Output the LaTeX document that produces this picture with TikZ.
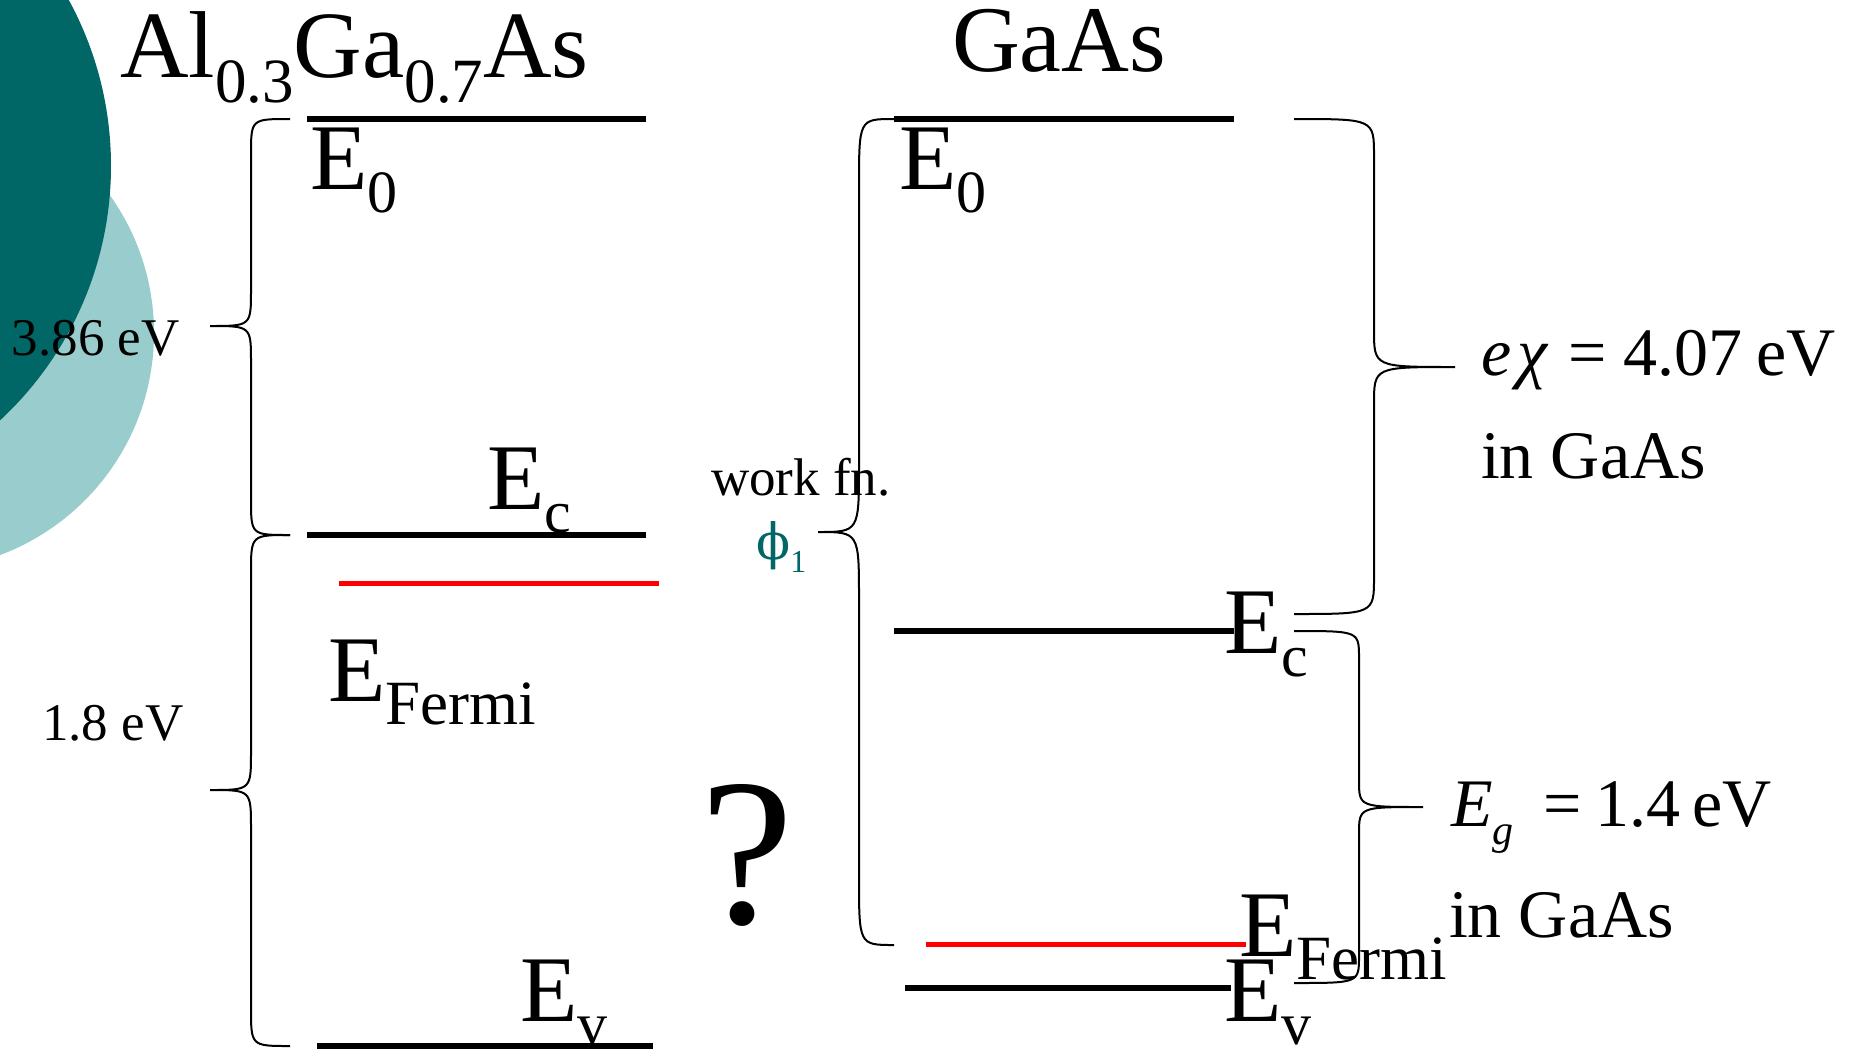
\documentclass[tikz,border=0pt]{standalone}
\usepackage{fontspec}
\setmainfont{Liberation Serif}
\newfontfamily\djs{DejaVu Serif}
\definecolor{darkteal}{RGB}{0,102,102}
\definecolor{lightteal}{RGB}{153,204,204}
\newcommand{\fs}[1]{\fontsize{#1}{#1}\selectfont}
\newcommand{\Esb}[1]{E\raisebox{-23pt}{\fs{60}#1}}
% #1 xend, #2 xstem, #3 xtip, #4 ytop, #5 ytip, #6 ybot, #7 r
\newcommand{\bracepath}[7]{%
  \draw[brc] ({#1},{#4}) .. controls ({#2},{#4}) .. ({#2},{#4+#7}) -- ({#2},{#5-#7})
    .. controls ({#2},{#5}) .. ({#3},{#5}) .. controls ({#2},{#5}) .. ({#2},{#5+#7})
    -- ({#2},{#6-#7}) .. controls ({#2},{#6}) .. ({#1},{#6});}
\begin{document}
\begin{tikzpicture}[x=1pt,y=-1pt,
  level/.style={line width=6pt},
  fermiline/.style={line width=5pt, red},
  brc/.style={line width=2pt},
  lbl/.style={anchor=base west, inner sep=0pt, outer sep=0pt, font=\fs{94}},
  small/.style={anchor=base west, inner sep=0pt, outer sep=0pt, font=\fs{53}},
  mid/.style={anchor=base west, inner sep=0pt, outer sep=0pt, font=\fs{68}}]
\useasboundingbox (0,0) rectangle (1857,1050);
\begin{scope}
  \clip (0,0) rectangle (1857,1050);
  \fill[lightteal] (-83,333) circle (237);
  \fill[darkteal] (-236,166) circle (347);
\end{scope}

% titles
\node[lbl, font=\fs{95}] (t1) at (120,77) {Al\raisebox{-25pt}{\fs{63}0.3}Ga\raisebox{-25pt}{\fs{63}0.7}As};
\node[lbl] (t2) at (952,71) {GaAs};

% AlGaAs levels
\draw[level] (307,119) -- (646,119);
\draw[level] (307,535) -- (646,535);
\draw[fermiline] (339,583) -- (659,583);
\draw[level] (317,1046) -- (653,1046);

% GaAs levels
\draw[level] (894,119) -- (1234,119);
\draw[level] (894,631) -- (1234,631);
\draw[fermiline] (926,944) -- (1246,944);
\draw[level] (905,988) -- (1231,988);

% labels left
\node[lbl] (e0l) at (310,189) {\Esb{0}};
\node[lbl] (ecl) at (487,509) {\Esb{c}};
\node[lbl] (efl) at (328,701) {E\raisebox{-23pt}{\fs{63}Fermi}};
\node[lbl] (evl) at (520,1021) {\Esb{v}};

% labels right
\node[lbl] (e0r) at (899,189) {\Esb{0}};
\node[lbl] (ecr) at (1224,653) {\Esb{c}};
\node[lbl] (efr) at (1239,956) {E\raisebox{-23pt}{\fs{63}Fermi}};
\node[lbl] (evr) at (1224,1021) {\Esb{v}};

% values
\node[small] (v386) at (12,355) {3.86 eV};
\node[small] (v18) at (42,740) {1.8 eV};
\node[small] (wf) at (711,495) {work fn.};
\node[anchor=base west, inner sep=0pt, text=darkteal] (phi) at (756,559)
  {{\djs\fs{50}ϕ}\raisebox{-13pt}{\fs{32}1}};
\node[anchor=base west, inner sep=0pt, font=\fs{210}] (q) at (700,923) {?};

\node[mid] (chi) at (1481,375) {\textit{e}\hspace{6pt}\textit{χ}\hspace{20pt}=\hspace{17pt}4.07\hspace{14pt}eV};
\node[mid] (in1) at (1481,478) {in GaAs};
\node[mid] (eg) at (1451,826) {\textit{E}\raisebox{-18pt}{\fs{42}\textit{g}}\hspace{30pt}=\hspace{14pt}1.4\,eV};
\node[mid] (in2) at (1449,937) {in GaAs};

% braces
\bracepath{290}{251}{210}{119}{326}{535}{36}
\bracepath{290}{251}{210}{535}{790}{1046}{38}
\bracepath{894}{859}{818}{119}{532}{945}{68}
\bracepath{1294}{1374}{1455}{119}{367}{614}{37}
\bracepath{1294}{1359}{1423}{631}{807}{983}{27}
\end{tikzpicture}
\end{document}
